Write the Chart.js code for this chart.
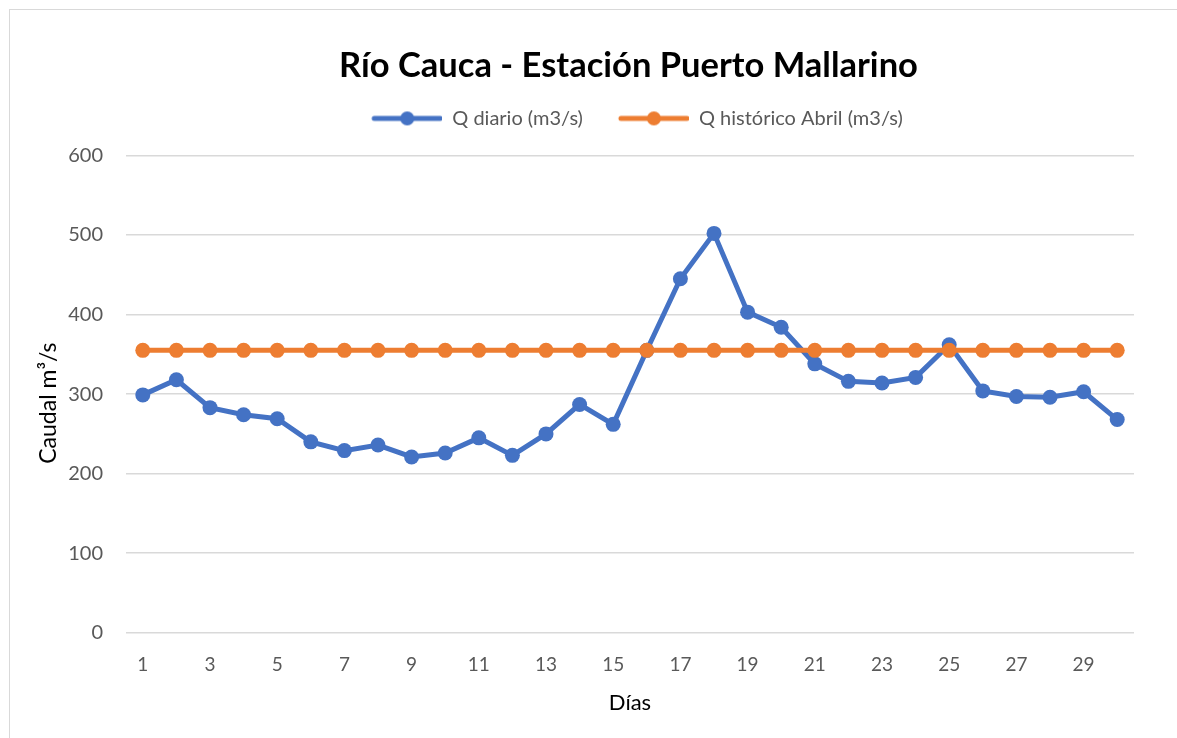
<!DOCTYPE html>
<html>
<head>
<meta charset="utf-8">
<script src="https://cdn.jsdelivr.net/npm/chart.js@4"></script>
<style>
  body { margin: 0; background: #fff; }
  #frame {
    position: absolute; left: 9px; top: 9px; width: 1180px; height: 740px;
    border-left: 1px solid #d9d9d9; border-top: 1px solid #d9d9d9;
  }
  #wrap { position: absolute; left: 10px; top: 10px; width: 1167px; height: 728px; }
</style>
</head>
<body>
<div id="frame"></div>
<div id="wrap"><canvas id="chart"></canvas></div>
<script>
// days of April
const dias = Array.from({ length: 30 }, (_, i) => String(i + 1));
// daily flow
const qDiario = [299, 318, 283, 274, 269, 240, 229, 236, 221, 226,
                 245, 223, 250, 287, 262, 355, 445, 502, 403, 384,
                 338, 316, 314, 321, 362, 304, 297, 296, 303, 268];
// historic April mean
const qHistorico = dias.map(() => 355);

const azul = '#4472C4';
const naranja = '#ED7D31';
const fuente = 'Lato, "Liberation Sans", sans-serif';

// legend marker: short line with a dot in the middle (blank space on the left for item spacing)
function marcador(color) {
  const c = document.createElement('canvas');
  c.width = 94; c.height = 16;
  const g = c.getContext('2d');
  g.strokeStyle = color; g.lineWidth = 5; g.lineCap = 'round';
  g.beginPath(); g.moveTo(26, 8); g.lineTo(92, 8); g.stroke();
  g.fillStyle = color;
  g.beginPath(); g.arc(59, 8, 7, 0, Math.PI * 2); g.fill();
  return c;
}

// extra room under the legend, and centre title/legend over the plot like Excel does
const ajustes = {
  id: 'ajustes',
  beforeInit(chart) {
    const fit = chart.legend.fit;
    chart.legend.fit = function () {
      fit.call(this);
      this.height += 17;
    };
  },
  afterLayout(chart) {
    chart.titleBlock.left += 46;
    chart.titleBlock.right += 46;
    chart.legend.left += 43;
    chart.legend.right += 43;
    // y title sits a bit below the plot centre in the original
    chart.scales.y.top += 9;
    chart.scales.y.bottom += 9;
  }
};

const ctx = document.getElementById('chart').getContext('2d');
new Chart(ctx, {
  type: 'line',
  data: {
    labels: dias,
    datasets: [{
      label: 'Q diario (m3/s)',
      data: qDiario,
      borderColor: azul,
      backgroundColor: azul,
      borderWidth: 5,
      pointRadius: 7.5,
      pointBorderWidth: 0,
      pointStyle: 'circle',
      tension: 0,
      order: 1
    }, {
      label: 'Q histórico Abril (m3/s)',
      data: qHistorico,
      borderColor: naranja,
      backgroundColor: naranja,
      borderWidth: 5,
      pointRadius: 7.5,
      pointBorderWidth: 0,
      tension: 0,
      order: 0
    }]
  },
  options: {
    responsive: true,
    maintainAspectRatio: false,
    animation: false,
    layout: { padding: { left: 21, right: 43, top: 18, bottom: 18 } },
    plugins: {
      title: {
        display: true,
        text: 'Río Cauca - Estación Puerto Mallarino',
        color: '#000',
        font: { family: fuente, size: 34.5, weight: 'bold' },
        padding: { top: 17, bottom: 10 }
      },
      legend: {
        position: 'top',
        labels: {
          color: '#595959',
          font: { family: fuente, size: 20 },
          usePointStyle: true,
          pointStyleWidth: 94,
          padding: 12,
          generateLabels(chart) {
            return chart.data.datasets.map((ds, i) => ({
              text: ds.label,
              pointStyle: marcador(ds.borderColor),
              fontColor: '#595959',
              lineWidth: 0,
              datasetIndex: i
            }));
          }
        }
      },
      tooltip: { enabled: false }
    },
    scales: {
      x: {
        offset: true,
        grid: { display: false },
        border: { display: false },
        ticks: {
          color: '#595959',
          font: { family: fuente, size: 19 },
          maxRotation: 0,
          autoSkip: false,
          callback(v, i) { return i % 2 === 0 ? this.getLabelForValue(v) : ''; },
          padding: 13
        },
        title: {
          display: true,
          text: 'Días',
          color: '#000',
          font: { family: fuente, size: 22 },
          padding: { top: 0 }
        }
      },
      y: {
        min: 0,
        max: 600,
        afterFit(scale) { scale.width = 95; },
        ticks: {
          stepSize: 100,
          color: '#595959',
          font: { family: fuente, size: 20 },
          padding: 23
        },
        grid: { color: '#d9d9d9', lineWidth: 1.5, drawTicks: false },
        border: { display: false },
        title: {
          display: true,
          text: 'Caudal m³/s',
          color: '#000',
          font: { family: fuente, size: 23 },
          padding: { bottom: 2 }
        }
      }
    }
  },
  plugins: [ajustes]
});
</script>
</body>
</html>
